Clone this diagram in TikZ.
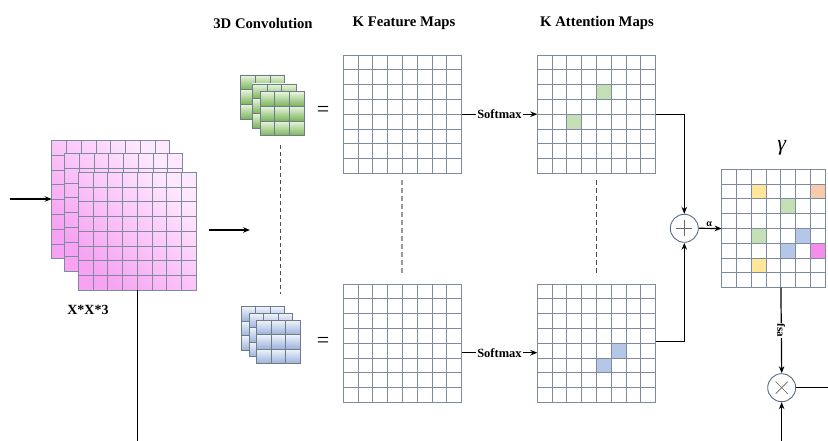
\documentclass[tikz,border=0pt]{standalone}
\usepackage{fontspec}
\setmainfont{Liberation Serif}
\usetikzlibrary{arrows.meta,calc}
\definecolor{gridc}{HTML}{7D8AA0}
\definecolor{cubec}{HTML}{6E7C88}
\definecolor{pinkL}{HTML}{FEE8FE}
\definecolor{pinkD}{HTML}{F7A2F2}
\definecolor{greenT}{HTML}{E9F5DF}
\definecolor{greenB}{HTML}{78B357}
\definecolor{blueT}{HTML}{F0F4FB}
\definecolor{blueB}{HTML}{9CB2DB}
\definecolor{cGreen}{HTML}{C5E0B4}
\definecolor{cBlue}{HTML}{B4C7E7}
\definecolor{cYellow}{HTML}{FFE699}
\definecolor{cOrange}{HTML}{F8CBAD}
\definecolor{cPink}{HTML}{F48EEB}
\definecolor{circc}{HTML}{5A6B85}
\newcommand\gridbox[7]{% name, x, y, cols, rows, cell, style
  \node[gbox,#7,minimum width={#4*#6},minimum height={#5*#6}] (#1) at ({#2+#4*#6/2},{#3+#5*#6/2}) {};
  \pgfmathtruncatemacro\nc{#4-1}
  \pgfmathtruncatemacro\nr{#5-1}
  \foreach \i in {1,...,\nc} \draw[gline] ({#2+\i*#6},#3) -- ({#2+\i*#6},{#3+#5*#6});
  \foreach \j in {1,...,\nr} \draw[gline] (#2,{#3+\j*#6}) -- ({#2+#4*#6},{#3+\j*#6});
}
\newcommand\cubegrid[6]{% name, x, y, cell, topcolor, bottomcolor
  \foreach \i in {0,1,2} \foreach \j in {0,1,2}
    \shadedraw[draw=cubec, line width=0.8pt, top color=#5, bottom color=#6] ({#2+\i*#4},{#3+\j*#4}) rectangle +(#4,#4);
  \node[draw=cubec, line width=0.8pt, inner sep=0, minimum size={3*#4}] (#1) at ({#2+1.5*#4},{#3+1.5*#4}) {};
}
\newcommand\cellfill[4]{% grid, col, row, colour
  \filldraw[fill=#4, draw=gridc, line width=0.9pt] ($(#1.north west)+({#2*14.8},{#3*14.8})$) rectangle +(14.8,14.8);
}
\begin{document}
\begin{tikzpicture}[x=1pt,y=-1pt,
  gbox/.style={draw=gridc, line width=0.9pt, inner sep=0, outer sep=0, fill=white},
  gline/.style={draw=gridc, line width=0.9pt},
  pinkshade/.style={top color=pinkL, bottom color=pinkD, shading angle=-45},
  arr/.style={-{Stealth[length=7pt,width=5.5pt]}, line width=1.2pt},
  plain/.style={line width=1.2pt},
  head/.style={font=\bfseries\fontsize{14.7}{16}\selectfont, inner sep=0},
  lab/.style={font=\bfseries\fontsize{12.5}{14}\selectfont, fill=white, inner sep=1pt},
  opc/.style={circle, draw=circc, line width=0.9pt, minimum size=28pt, inner sep=0, fill=white},
  eqs/.style={font=\fontsize{22}{22}\selectfont, inner sep=0}
  ]
\useasboundingbox (0,0) rectangle (828,441);

% headers
\node[head] (h1) at (263,23) {3D Convolution};
\node[head] (h2) at (404,23) {K Feature Maps};
\node[head] (h3) at (597,23) {K Attention Maps};

% input stack
\gridbox{inp1}{51.7}{140.7}{8}{8}{14.75}{pinkshade}
\gridbox{inp2}{64.5}{153.5}{8}{8}{14.75}{pinkshade}
\gridbox{inp3}{78.3}{172.3}{8}{8}{14.75}{pinkshade}
\node[font=\bfseries\fontsize{14}{16}\selectfont, inner sep=0] (xlab) at (88,310) {X*X*3};

\coordinate (inL) at (10,199);
\coordinate (inR) at (inp1.west |- inL);
\draw[arr] (inL) -- (inR);
\coordinate (bot1) at (inp3.south |- 0,441);
\draw[plain] (inp3.south) -- (bot1);
\coordinate (m1) at (209,230);
\coordinate (m2) at (250,230);
\draw[arr] (m1) -- (m2);

% convolution cubes
\cubegrid{g1}{240.7}{75}{14.7}{greenT}{greenB}
\cubegrid{g2}{252.3}{84}{14.7}{greenT}{greenB}
\cubegrid{g3}{260}{91.7}{14.7}{greenT}{greenB}
\cubegrid{b1}{241}{306.7}{14.5}{blueT}{blueB}
\cubegrid{b2}{249.3}{313.3}{14.5}{blueT}{blueB}
\cubegrid{b3}{256.7}{320}{14.5}{blueT}{blueB}
\node[eqs] (eq1) at (323,111) {=};
\node[eqs] (eq2) at (323,342.7) {=};
\coordinate (d1a) at (280,145);
\coordinate (d1b) at (280,294);
\draw[draw=black!70, line width=0.9pt, dash pattern=on 4pt off 3pt] (d1a) -- (d1b);

% feature maps
\gridbox{fm1}{343.3}{55}{8}{8}{14.8}{}
\gridbox{fm2}{343.3}{284}{8}{8}{14.8}{}
\coordinate (d2a) at (402,180);
\coordinate (d2b) at (402,273);
\draw[draw=black!40, line width=1.6pt, dash pattern=on 5pt off 3pt] (d2a) -- (d2b);

% attention maps
\gridbox{am1}{537.3}{55}{8}{8}{14.8}{}
\gridbox{am2}{537.3}{284}{8}{8}{14.8}{}
\cellfill{am1}{4}{2}{cGreen}
\cellfill{am1}{2}{4}{cGreen}
\cellfill{am2}{5}{4}{cBlue}
\cellfill{am2}{4}{5}{cBlue}
\coordinate (d3a) at (596.3,180);
\coordinate (d3b) at (596.3,273);
\draw[draw=black!70, line width=0.9pt, dash pattern=on 5pt off 3pt] (d3a) -- (d3b);

\draw[arr] (fm1.east) -- node[lab] {Softmax} (am1.west);
\draw[arr] ([yshift=-9.5pt]fm2.east) -- node[lab] {Softmax} ([yshift=-9.5pt]am2.west);

% combination
\node[opc] (plus) at (684.3,228.3) {};
\draw[black!60, line width=0.6pt] ([xshift=-8pt]plus.center) -- ([xshift=8pt]plus.center)
  ([yshift=-8pt]plus.center) -- ([yshift=8pt]plus.center);
\draw[arr] (am1.east) -| (plus.north);
\draw[arr] ([yshift=2pt]am2.east) -| (plus.south);

\gridbox{gam}{721.7}{169.3}{7}{8}{14.8}{}
\cellfill{gam}{2}{1}{cYellow}
\cellfill{gam}{6}{1}{cOrange}
\cellfill{gam}{4}{2}{cGreen}
\cellfill{gam}{2}{4}{cGreen}
\cellfill{gam}{5}{4}{cBlue}
\cellfill{gam}{4}{5}{cBlue}
\cellfill{gam}{6}{5}{cPink}
\cellfill{gam}{2}{6}{cYellow}
\node[font=\itshape\fontsize{22}{22}\selectfont, inner sep=0] (glab) at (781.7,148) {γ};

\draw[arr] (plus.east) -- node[above, font=\bfseries\fontsize{10}{10}\selectfont, inner sep=1.5pt, pos=0.45] {α} (gam.west);

\node[opc] (times) at (781.7,387.7) {};
\draw[black!60, line width=0.6pt] ([shift={(-6pt,-6pt)}]times.center) -- ([shift={(6pt,6pt)}]times.center)
  ([shift={(-6pt,6pt)}]times.center) -- ([shift={(6pt,-6pt)}]times.center);
\coordinate (gsplit) at ($(gam.south west)+(59.2,0)$);
\draw[arr] (gsplit) -- node[pos=0.5, rotate=-90, fill=white, inner sep=1pt, font=\bfseries\fontsize{11}{11}\selectfont] {fsa} (times.north);
\coordinate (outR) at (828,387.7);
\draw[plain] (times.east) -- (outR);
\coordinate (bot2) at (times.south |- 0,441);
\draw[arr] (bot2) -- (times.south);
\end{tikzpicture}
\end{document}
